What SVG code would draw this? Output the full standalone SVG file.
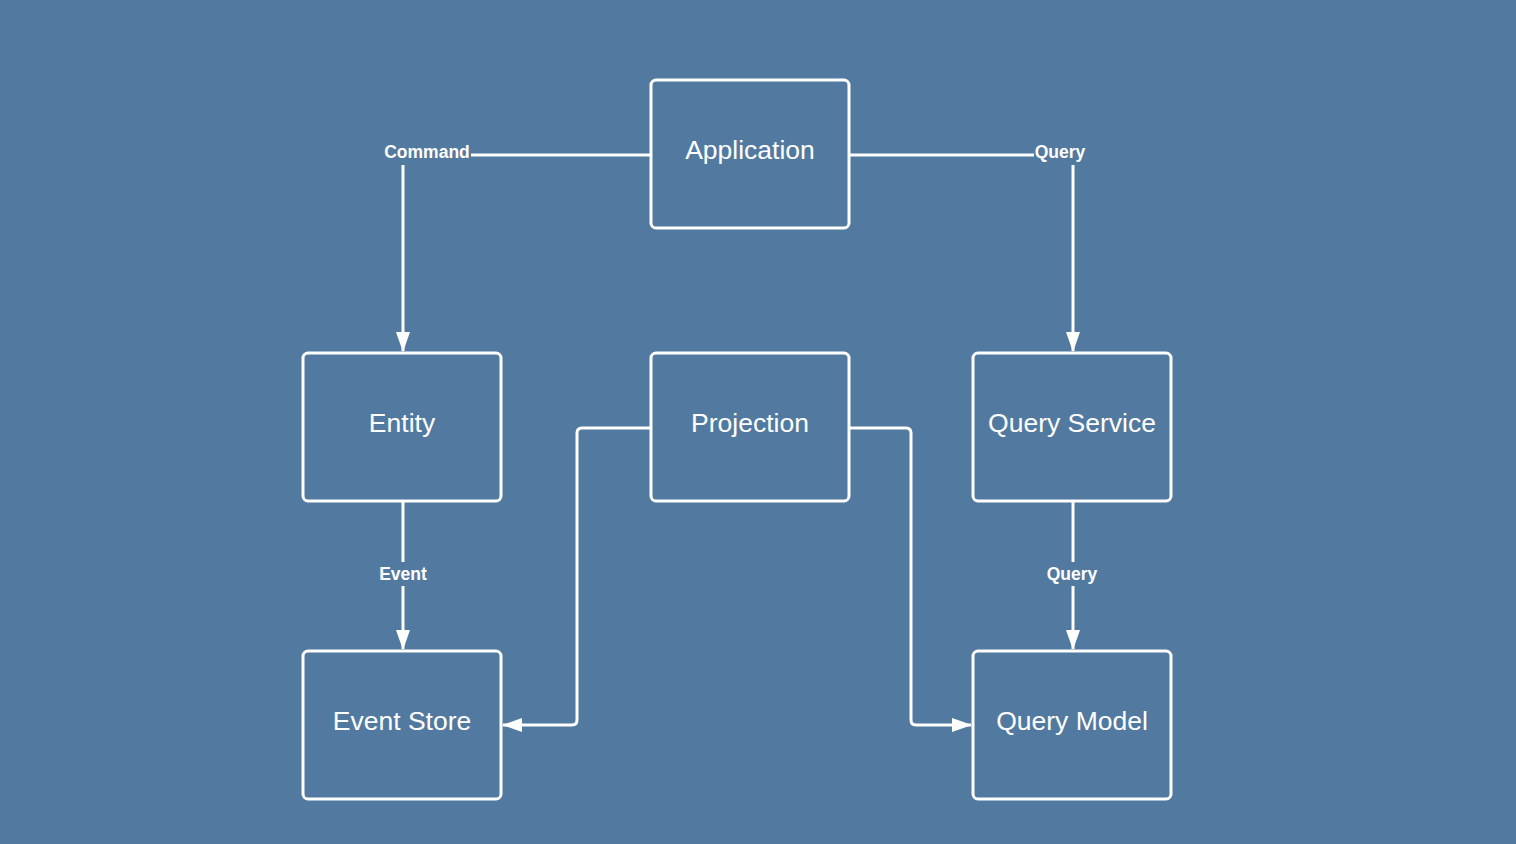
<svg xmlns="http://www.w3.org/2000/svg" width="1516" height="844" viewBox="0 0 1516 844">
<defs>
<style>
.node rect{fill:none;stroke:#fff;stroke-width:3}
.node text{fill:#fff;font-family:"Liberation Sans",Arial,sans-serif;font-size:26.5px;text-anchor:middle}
.edge path{fill:none;stroke:#fff;stroke-width:3;stroke-linejoin:round}
.lbl rect{fill:#527aa0}
.lbl text{fill:#fff;font-family:"Liberation Sans",Arial,sans-serif;font-size:17.5px;font-weight:bold;text-anchor:middle}
</style>
<marker id="arr" viewBox="0 0 20 14" refX="19" refY="7" markerWidth="20" markerHeight="14" markerUnits="userSpaceOnUse" orient="auto">
<path d="M0,0 L20,7 L0,14 Z" fill="#fff"/>
</marker>
</defs>
<rect width="1516" height="844" fill="#527aa0"/>
<g id="connectors" class="edge">
<path d="M651,155 H403 V351" marker-end="url(#arr)"/>
<path d="M849,155 H1073 V351" marker-end="url(#arr)"/>
<path d="M403,501 V649" marker-end="url(#arr)"/>
<path d="M1073,501 V649" marker-end="url(#arr)"/>
<path d="M651,428 H582 Q577,428 577,433 V720 Q577,725 572,725 H503" marker-end="url(#arr)"/>
<path d="M849,428 H906 Q911,428 911,433 V720 Q911,725 916,725 H971" marker-end="url(#arr)"/>
</g>
<g id="labels" class="lbl">
<rect x="384" y="141" width="87" height="24"/>
<text x="427" y="158">Command</text>
<rect x="1034" y="141" width="53" height="24"/>
<text x="1060" y="158">Query</text>
<rect x="377" y="562" width="52" height="24"/>
<text x="403" y="580">Event</text>
<rect x="1045" y="562" width="54" height="24"/>
<text x="1072" y="580">Query</text>
</g>
<g id="application" class="node"><rect x="651" y="80" width="198" height="148" rx="5"/><text x="750" y="159">Application</text></g>
<g id="entity" class="node"><rect x="303" y="353" width="198" height="148" rx="5"/><text x="402" y="432">Entity</text></g>
<g id="projection" class="node"><rect x="651" y="353" width="198" height="148" rx="5"/><text x="750" y="432">Projection</text></g>
<g id="query-service" class="node"><rect x="973" y="353" width="198" height="148" rx="5"/><text x="1072" y="432">Query Service</text></g>
<g id="event-store" class="node"><rect x="303" y="651" width="198" height="148" rx="5"/><text x="402" y="730">Event Store</text></g>
<g id="query-model" class="node"><rect x="973" y="651" width="198" height="148" rx="5"/><text x="1072" y="730">Query Model</text></g>
</svg>
